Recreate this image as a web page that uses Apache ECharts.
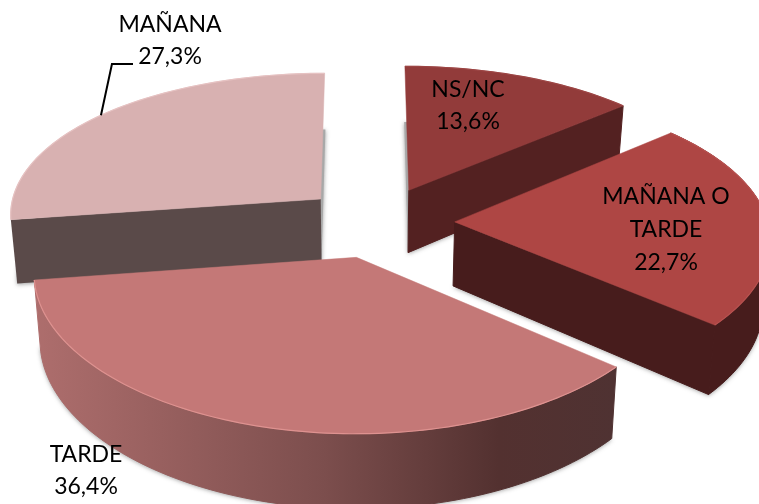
<!DOCTYPE html>
<html>
<head>
<meta charset="utf-8">
<style>html,body{margin:0;padding:0;background:#fff;overflow:hidden}#c{width:759px;height:504px}</style>
<script src="https://cdn.jsdelivr.net/npm/echarts@6/dist/echarts.min.js"></script>
</head>
<body>
<div id="c"></div>
<script>
// Data (pie order, clockwise from 12 o'clock)
const categories = ['NS/NC', 'MAÑANA O\nTARDE', 'TARDE', 'MAÑANA'];
const shares = [13.6, 22.7, 36.4, 27.3];

// Styling / layout
const topColors = ['#923b3a', '#ae4644', '#c47877', '#d8b1b1'];
const wallColors = ['#532121', '#471c1c', null, '#5a4a49'];
const rimColors = ['#9c4544', '#b85250', '#de9290', '#e6c2c2'];
const drawRank = [0, 2, 3, 1];
const labelPos = [[468, 106], [666, 230], [86, 471], [170, 41]];
const P = {cx: 378, cy: 222, vx: 365, rx: 313, ry: 146, k: 0.12, kx: 0.1, explode: 0.245, depth: 64, shrink: 0.018};

function project(X, Z, h) {
  const f = 1 / (1 + P.k * Z);
  const fx = 1 / (1 + P.kx * Z);
  const s = 1 - P.shrink * h;
  const x = P.vx + (P.cx - P.vx + P.rx * X) * fx * s;
  const y = P.cy - P.ry * Z * f + P.depth * h * f;
  return [x, y];
}
function rimPoint(apex, t, h) {
  return project(apex[0] + Math.sin(t), apex[1] + Math.cos(t), h);
}
function arcAngles(a, b) {
  const out = [];
  const n = Math.max(8, Math.ceil((b - a) * 40));
  for (let i = 0; i <= n; i++) out.push(a + (b - a) * i / n);
  return out;
}
const total = shares.reduce((s, v) => s + v, 0);
const shadow = {shadowBlur: 4, shadowColor: 'rgba(60,60,60,0.5)', shadowOffsetX: 0, shadowOffsetY: 1};

function renderItem(params, api) {
  const i = params.dataIndex;
  const value = api.value(0);
  let before = 0;
  for (let j = 0; j < i; j++) before += shares[j];
  const a0 = before / total * 2 * Math.PI;
  const a1 = a0 + value / total * 2 * Math.PI;
  const mid = (a0 + a1) / 2;
  const apex = [Math.sin(mid) * P.explode, Math.cos(mid) * P.explode];
  const base = drawRank[i] * 10;
  const angles = arcAngles(a0, a1);
  const children = [];
  const apexTop = project(apex[0], apex[1], 0);
  const apexBot = project(apex[0], apex[1], 1);
  const rimTop = angles.map(t => rimPoint(apex, t, 0));

  // back silhouette carrying the soft shadow
  const sil = [apexBot].concat(angles.map(t => rimPoint(apex, t, 1))).concat([apexBot]);
  children.push({type: 'polygon', z2: base, shape: {points: sil},
    style: Object.assign({fill: '#a8a8a8'}, shadow)});

  if (i === 0 || i === 1) {      // wall a1 edge (facing viewer): apex -> a1 rim
    const r = rimPoint(apex, a1, 0), rb = rimPoint(apex, a1, 1);
    children.push({type: 'polygon', z2: base + 1, shape: {points: [apexTop, r, rb, apexBot]},
      style: {fill: wallColors[i], stroke: wallColors[i], lineWidth: 1}});
  }
  if (i === 3) {                 // wall a0 edge: apex -> a0 rim
    const r = rimPoint(apex, a0, 0), rb = rimPoint(apex, a0, 1);
    children.push({type: 'polygon', z2: base + 1, shape: {points: [apexTop, r, rb, apexBot]},
      style: {fill: wallColors[i]}});
  }
  if (i === 1 || i === 2) {      // outer curved wall
    const pts = rimTop.concat(angles.slice().reverse().map(t => rimPoint(apex, t, 1)));
    const fill = i === 2 ? {
      type: 'linear', x: 33, y: 0, x2: 615, y2: 0, global: true,
      colorStops: [
        {offset: 0, color: '#ae6e6d'},
        {offset: 0.5, color: '#7c4e4d'},
        {offset: 0.8, color: '#533130'},
        {offset: 1, color: '#4f3232'}
      ]
    } : wallColors[i];
    children.push({type: 'polygon', z2: base + 1, shape: {points: pts},
      style: {fill: fill, stroke: fill, lineWidth: 1}});
  }
  // top face
  children.push({type: 'polygon', z2: base + 2, shape: {points: [apexTop].concat(rimTop)},
    style: {fill: topColors[i], stroke: topColors[i], lineWidth: 0.5}});
  // bevel on rim
  children.push({type: 'polyline', z2: base + 3, shape: {points: rimTop},
    style: {fill: null, stroke: rimColors[i], lineWidth: 1.2}});

  // label
  const lab = categories[i] + '\n' + value.toFixed(1).replace('.', ',') + '%';
  children.push({type: 'text', z2: 100, style: {
    x: labelPos[i][0], y: labelPos[i][1], text: lab, fill: '#000',
    font: '23px Lato, Carlito, sans-serif', align: 'center', verticalAlign: 'middle', lineHeight: i === 1 ? 33 : 32
  }});
  if (i === 3) {                 // leader line from rim to label
    const t = a0 + (a1 - a0) * 0.49;
    const p = rimPoint(apex, t, 0);
    children.push({type: 'polyline', z2: 100, shape: {points: [p, [p[0] + 11, 64], [133, 64]]},
      style: {fill: null, stroke: '#000', lineWidth: 2}});
  }
  return {type: 'group', children: children};
}

const chart = echarts.init(document.getElementById('c'), null, {renderer: 'canvas'});
chart.setOption({
  animation: false,
  backgroundColor: '#fff',
  series: [{
    type: 'custom',
    coordinateSystem: 'none',
    clip: false,
    silent: true,
    renderItem: renderItem,
    data: shares.map((v, i) => ({name: categories[i], value: [v]}))
  }]
});
</script>
</body>
</html>
